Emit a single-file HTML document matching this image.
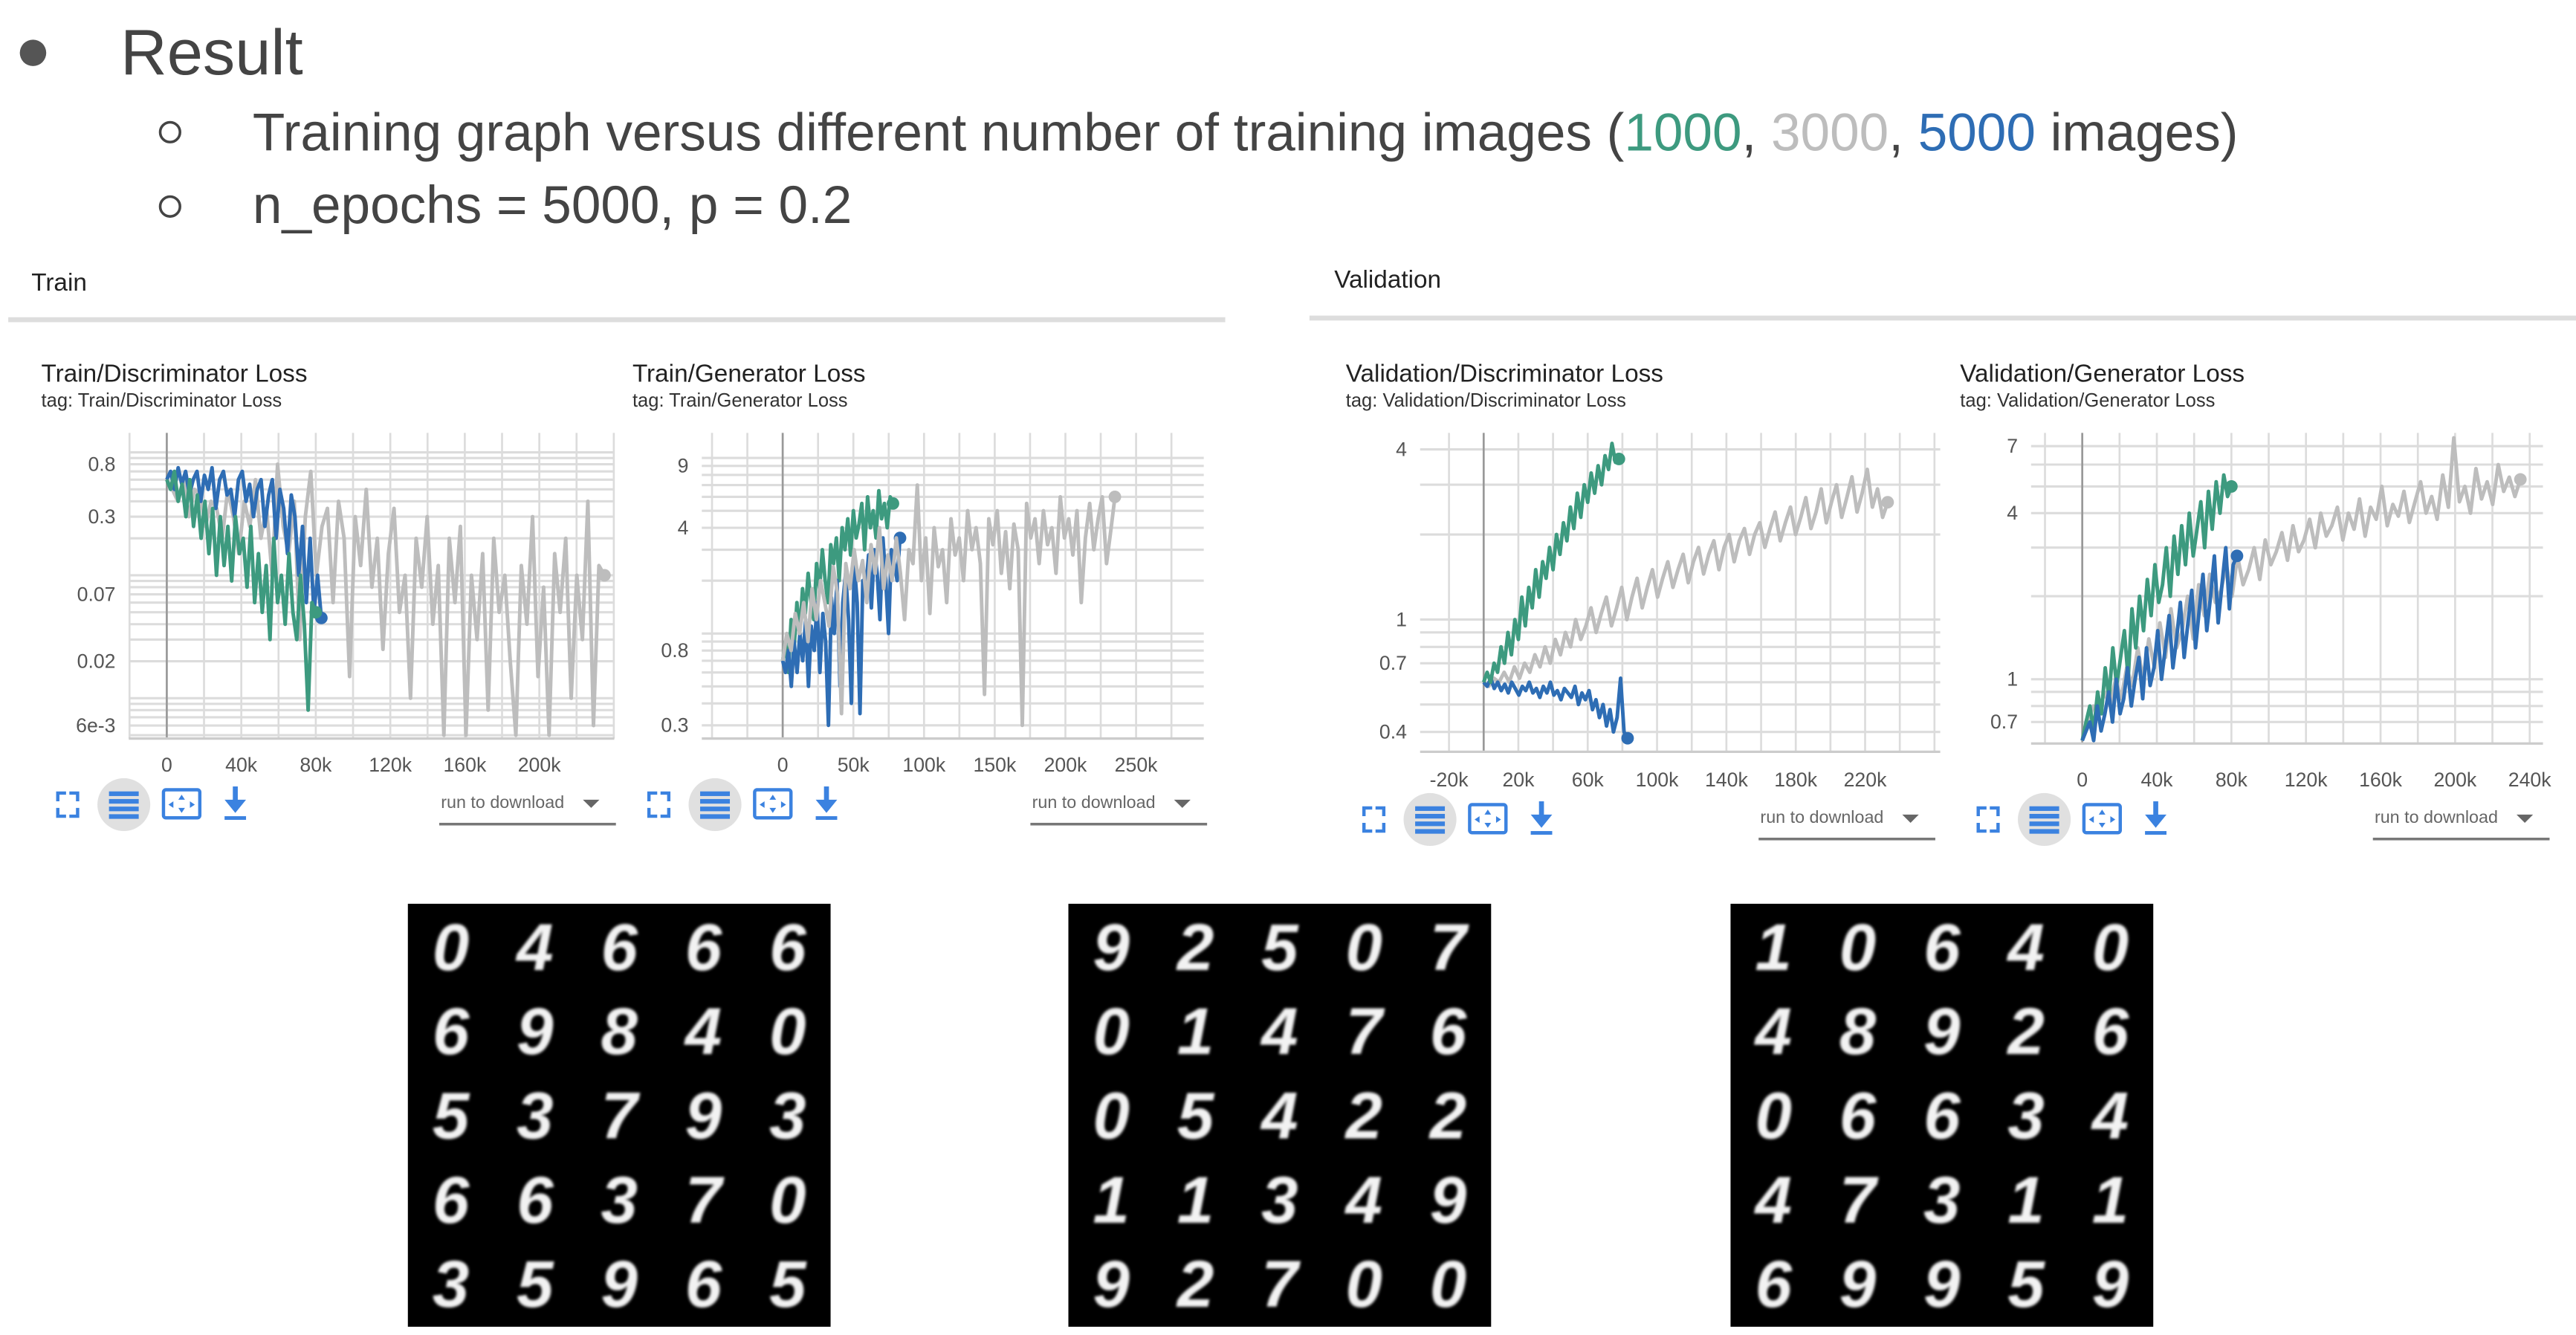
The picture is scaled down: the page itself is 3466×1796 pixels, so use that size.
<!DOCTYPE html>
<html><head><meta charset="utf-8"><style>
html,body{margin:0;padding:0;background:#fff;}
svg{display:block;}
text{font-family:"Liberation Sans",sans-serif;}
</style></head><body>
<svg id="root" width="3466" height="1796" viewBox="0 0 1560 808" preserveAspectRatio="none" xmlns="http://www.w3.org/2000/svg">
<g>
<circle cx="20" cy="32" r="8" fill="#555"/>
<text x="73" y="45" font-size="39" fill="#444">Result</text>
<circle cx="103" cy="80" r="6" fill="none" stroke="#444" stroke-width="1.6"/>
<text x="153" y="91" font-size="32" fill="#444">Training graph versus different number of training images (<tspan fill="#3d9a7f">1000</tspan>, <tspan fill="#bdbdbd">3000</tspan>, <tspan fill="#2e6db4">5000</tspan> images)</text>
<circle cx="103" cy="125" r="6" fill="none" stroke="#444" stroke-width="1.6"/>
<text x="153" y="135" font-size="32" fill="#444">n_epochs = 5000, p = 0.2</text>
</g>
<text x="19" y="176" font-size="15" fill="#222">Train</text>
<rect x="5" y="192" width="737" height="3" fill="#ddd"/>
<text x="808" y="174" font-size="15" fill="#222">Validation</text>
<rect x="793" y="191" width="767" height="3" fill="#ddd"/>
<g id="charts"></g>
<g id="grids"></g>
</svg>
<script>
// ---- data ----
const c1Ticks = [0,40,80,120,160,200];
const c1TickLabels = ["0","40k","80k","120k","160k","200k"];
const c1YTicks = [0.8,0.3,0.07,0.02,0.006];
const c1YLabels = ["0.8","0.3","0.07","0.02","6e-3"];
const c1GreenEnd = 80, c1BlueEnd = 83, c1GrayEnd = 235;
const c1Green = [0.6,0.5,0.7,0.4,0.55,0.3,0.6,0.25,0.45,0.2,0.4,0.15,0.35,0.1,0.3,0.12,0.25,0.09,0.3,0.15,0.2,0.08,0.25,0.06,0.15,0.05,0.12,0.03,0.2,0.06,0.1,0.04,0.15,0.05,0.03,0.1,0.04,0.008,0.06,0.05];
const c1Blue = [0.6,0.7,0.5,0.75,0.55,0.7,0.45,0.6,0.7,0.4,0.65,0.5,0.75,0.35,0.6,0.7,0.45,0.5,0.3,0.6,0.7,0.4,0.55,0.3,0.5,0.6,0.25,0.45,0.6,0.2,0.5,0.35,0.15,0.45,0.3,0.1,0.25,0.06,0.2,0.05,0.1,0.045];
const c1Gray = [0.6,0.5,0.4,0.6,0.3,0.5,0.45,0.25,0.4,0.35,0.2,0.5,0.3,0.15,0.4,0.25,0.6,0.2,0.35,0.1,0.8,0.25,0.15,0.4,0.03,0.3,0.7,0.1,0.25,0.35,0.06,0.4,0.2,0.015,0.3,0.12,0.5,0.08,0.2,0.025,0.15,0.35,0.05,0.1,0.01,0.2,0.08,0.3,0.04,0.12,0.005,0.2,0.06,0.25,0.005,0.1,0.03,0.15,0.008,0.2,0.05,0.1,0.02,0.005,0.12,0.04,0.3,0.015,0.08,0.005,0.15,0.05,0.2,0.01,0.1,0.03,0.4,0.006,0.12,0.1];

const c2Ticks = [0,50,100,150,200,250];
const c2TickLabels = ["0","50k","100k","150k","200k","250k"];
const c2YTicks = [9,4,0.8,0.3];
const c2YLabels = ["9","4","0.8","0.3"];
const c2GreenEnd = 78, c2BlueEnd = 83, c2GrayEnd = 235;
const c2Green = [0.7,0.9,0.6,1.2,0.8,1.5,1.0,1.8,1.3,2.2,1.5,1.2,2.5,1.8,3.0,2.0,1.5,3.2,2.5,3.5,2.0,4.0,3.0,4.5,2.8,5.0,3.5,4.2,5.5,3.0,6.0,4.0,5.0,3.5,6.5,4.5,5.5,4.0,6.0,5.5];
const c2Blue = [0.7,0.6,0.8,0.5,0.9,0.6,1.0,0.7,1.2,0.5,1.1,0.8,1.5,0.6,1.3,0.9,0.3,1.6,1.0,2.0,0.5,1.5,2.2,1.2,0.4,2.5,1.5,0.35,2.0,1.8,2.8,1.4,3.0,2.2,1.2,3.5,2.0,1.0,3.0,2.5,2.0,3.5];
const c2Gray = [0.7,1.0,0.8,1.3,1.0,1.5,0.9,1.8,1.2,2.0,1.5,1.1,2.4,1.7,0.35,2.5,1.8,3.0,2.0,2.6,1.5,3.2,2.2,4.0,1.8,2.8,2.0,3.5,2.2,1.2,3.0,2.5,7.0,2.0,3.5,1.3,4.0,2.4,3.0,1.5,4.5,2.8,3.5,2.0,5.0,3.0,4.0,2.5,0.45,4.5,3.2,5.0,2.2,3.8,1.8,4.2,3.0,0.3,5.5,3.5,4.5,2.5,5.0,3.2,4.0,2.2,6.0,3.5,4.5,2.8,5.0,1.5,3.5,5.5,3.0,4.5,6.0,2.5,3.8,6.0];

const c3Ticks = [-20,20,60,100,140,180,220];
const c3TickLabels = ["-20k","20k","60k","100k","140k","180k","220k"];
const c3YTicks = [4,1,0.7,0.4];
const c3YLabels = ["4","1","0.7","0.4"];
const c3GreenEnd = 78, c3BlueEnd = 83, c3GrayEnd = 233;
const c3Green = [0.6,0.65,0.6,0.7,0.65,0.8,0.7,0.9,0.75,1.0,0.85,1.2,0.95,1.3,1.1,1.5,1.2,1.6,1.4,1.8,1.5,2.0,1.7,2.2,1.9,2.5,2.1,2.8,2.3,3.0,2.6,3.3,2.8,3.5,3.0,3.8,3.4,4.2,3.6,3.7];
const c3Blue = [0.6,0.58,0.62,0.57,0.6,0.56,0.59,0.55,0.6,0.57,0.54,0.58,0.56,0.6,0.55,0.57,0.53,0.58,0.55,0.6,0.54,0.56,0.52,0.57,0.55,0.53,0.58,0.5,0.55,0.52,0.56,0.48,0.52,0.45,0.5,0.42,0.48,0.4,0.45,0.62,0.4,0.38];
const c3Gray = [0.6,0.58,0.62,0.6,0.65,0.6,0.68,0.62,0.7,0.65,0.75,0.68,0.8,0.7,0.85,0.75,0.9,0.8,1.0,0.85,0.95,1.1,0.9,1.05,1.2,0.95,1.1,1.3,1.0,1.2,1.4,1.1,1.3,1.5,1.2,1.4,1.6,1.3,1.5,1.7,1.35,1.6,1.8,1.45,1.7,1.9,1.5,1.8,2.0,1.6,1.9,2.1,1.7,2.0,2.2,1.8,2.1,2.4,1.9,2.2,2.5,2.0,2.3,2.7,2.1,2.4,2.9,2.2,2.6,3.0,2.3,2.7,3.2,2.4,2.8,3.4,2.5,2.9,2.3,2.6];

const c4Ticks = [0,40,80,120,160,200,240];
const c4TickLabels = ["0","40k","80k","120k","160k","200k","240k"];
const c4YTicks = [7,4,1,0.7];
const c4YLabels = ["7","4","1","0.7"];
const c4GreenEnd = 80, c4BlueEnd = 83, c4GrayEnd = 235;
const c4Green = [0.6,0.7,0.8,0.65,0.9,0.75,1.1,0.85,1.3,0.95,1.2,1.5,1.0,1.8,1.3,2.0,1.5,2.3,1.7,2.6,1.9,2.2,3.0,2.0,3.3,2.4,3.6,2.6,4.0,2.8,3.5,4.4,3.0,4.8,3.5,5.2,4.0,5.5,4.6,5.0];
const c4Blue = [0.6,0.65,0.7,0.6,0.8,0.65,0.75,0.9,0.7,1.0,0.75,0.85,1.1,0.8,1.0,1.2,0.85,1.3,0.95,1.1,1.5,1.0,1.3,1.7,1.1,1.4,1.9,1.2,1.6,2.1,1.3,1.8,2.4,1.5,2.0,2.8,1.6,2.2,3.0,1.8,2.6,2.8];
const c4Gray = [0.6,0.7,0.8,0.75,0.9,0.8,1.0,0.85,1.1,0.95,1.3,1.0,1.4,1.1,1.6,1.2,1.8,1.3,1.5,2.0,1.4,2.2,1.7,2.4,1.9,2.1,2.6,2.0,2.8,2.2,2.5,3.0,2.3,3.2,2.6,2.9,3.4,2.7,3.6,2.9,3.2,3.8,3.0,4.0,3.3,3.6,4.2,3.2,4.0,3.5,4.5,3.3,4.2,3.8,5.0,3.6,4.3,3.9,4.8,3.7,4.4,5.2,4.0,4.6,3.8,5.5,4.2,7.5,4.4,5.0,4.0,5.8,4.5,5.2,4.3,6.0,4.8,5.4,4.6,5.3];

const grid1 = ["04666","69840","53793","66370","35965"];
const grid2 = ["92507","01476","05422","11349","92700"];
const grid3 = ["10640","48926","06634","47311","69959"];

// ---- rendering ----
const NS = "http://www.w3.org/2000/svg";
const GREEN = "#3d9a7f", BLUE = "#2e6db4", GRAY = "#bdbdbd";
function mk(tag, attrs, parent){ const e=document.createElementNS(NS,tag); for(const k in attrs) e.setAttribute(k,attrs[k]); parent.appendChild(e); return e; }

function drawChart(id, g, title, tag, ticks, tickLabels, yTicks, yLabels, series){
  const root = document.getElementById('charts');
  const grp = mk('g',{},root);
  
  
  const xs = k => g.x0 + k*g.pxk;
  const ys = v => g.vy - (Math.log10(v) - Math.log10(g.v0))*g.dec;
  const t1 = mk('text',{x:g.tx,y:g.ty,'font-size':15,fill:'#222'},grp); t1.textContent=title;
  
  
  const t2 = mk('text',{x:g.tx,y:g.ty+15,'font-size':11.5,fill:'#333'},grp); t2.textContent=tag;
  
  
  const lo = Math.floor(Math.log10(g.v0))-3;
  for(let p=lo;p<=lo+6;p++){ for(let d=1;d<10;d++){ const v=d*Math.pow(10,p); const y=ys(v);
    if(y>g.T+4 && y<g.B-2){ const l=mk('line',{x1:g.L,x2:g.R,y1:y,y2:y,stroke:'#dcdcdc','stroke-width':1.4},grp);
        } } }
  const half=(ticks[1]-ticks[0])/2;
  for(let k=ticks[0]-4*half;k<=ticks[ticks.length-1]+4*half;k+=half){ const x=xs(k);
    if(x>=g.L-1 && x<=g.R+1){ const l=mk('line',{x1:x,x2:x,y1:g.T,y2:g.B,stroke:'#dcdcdc','stroke-width':1.2},grp);
        } }
  const zl=mk('line',{x1:xs(0),x2:xs(0),y1:g.T,y2:g.B,stroke:'#999','stroke-width':1.2},grp);
   
  const bl=mk('line',{x1:g.L,x2:g.R,y1:g.B,y2:g.B,stroke:'#ccc','stroke-width':1.5},grp);
   
  ticks.forEach((k,i)=>{ const t=mk('text',{x:xs(k),y:g.xly,'font-size':12,fill:'#555','text-anchor':'middle'},grp); t.textContent=tickLabels[i];
      });
  yTicks.forEach((v,i)=>{ const t=mk('text',{x:g.L-8,y:ys(v)+4,'font-size':12,fill:'#555','text-anchor':'end'},grp); t.textContent=yLabels[i];
      });
  const cp=mk('clipPath',{id:id+'-clip'},grp); mk('rect',{x:g.L,y:g.T,width:g.R-g.L,height:g.B-g.T},cp);
  const sg=mk('g',{'clip-path':'url(#'+id+'-clip)'},grp);
  series.forEach(s=>{ const n=s.vals.length; const pts=s.vals.map((v,i)=>[xs(s.end*i/(n-1)),ys(v)]);
    const pl=mk('polyline',{points:pts.map(p=>p[0].toFixed(1)+','+p[1].toFixed(1)).join(' '),fill:'none',stroke:s.c,'stroke-width':2.2,'stroke-linejoin':'round'},sg);
     
    const last=pts[n-1]; const dot=mk('circle',{cx:last[0],cy:last[1],r:3.8,fill:s.c},sg);
      });
  const ix=g.ix, iy=g.iy, blue='#3b82e0';
  const fs=mk('path',{d:`M${ix-6} ${iy-2}v-5h5 M${ix+1} ${iy-7}h5v5 M${ix+6} ${iy+2}v5h-5 M${ix-1} ${iy+7}h-5v-5`,stroke:blue,'stroke-width':2,fill:'none'},grp);
   
  const cg=mk('g',{},grp);  
  mk('circle',{cx:ix+34,cy:iy,r:16,fill:'#e0e0e0'},cg);
  for(let j=0;j<4;j++) mk('rect',{x:ix+25,y:iy-8+j*4.6,width:18,height:2.8,fill:blue},cg);
  const fit=mk('g',{},grp);  
  mk('rect',{x:ix+58,y:iy-9,width:22,height:17,fill:'none',stroke:blue,'stroke-width':2,rx:1.5},fit);
  mk('path',{d:`M${ix+69} ${iy-6}l-2 3h4z M${ix+69} ${iy+5}l-2 -3h4z M${ix+61} ${iy}l3 -2v4z M${ix+77} ${iy}l-3 -2v4z`,fill:blue},fit);
  const dl=mk('g',{},grp);  
  mk('rect',{x:ix+100,y:iy-11,width:3,height:10,fill:blue},dl);
  mk('path',{d:`M${ix+95} ${iy-3}h13l-6.5 8z`,fill:blue},dl);
  mk('rect',{x:ix+95,y:iy+7,width:13,height:2.2,fill:blue},dl);
  const rd=mk('g',{},grp);  
  const rt=mk('text',{x:g.rx,y:iy+2,'font-size':10.5,fill:'#666'},rd); rt.textContent='run to download';
  mk('path',{d:`M${g.rx+86} ${iy-3}h10l-5 5z`,fill:'#666'},rd);
  mk('rect',{x:g.rx-1,y:iy+11,width:107,height:1.6,fill:'#777'},rd);
}

drawChart('train-discriminator-chart',{L:78,R:372,T:262,B:447,x0:101,pxk:1.128,v0:0.8,vy:281,dec:74.4,tx:25,ty:231,xly:467,ix:41,iy:487,rx:267},
  'Train/Discriminator Loss','tag: Train/Discriminator Loss',c1Ticks,c1TickLabels,c1YTicks,c1YLabels,
  [{n:'3000',c:GRAY,vals:c1Gray,end:c1GrayEnd},{n:'5000',c:BLUE,vals:c1Blue,end:c1BlueEnd},{n:'1000',c:GREEN,vals:c1Green,end:c1GreenEnd}]);
drawChart('train-generator-chart',{L:425,R:729,T:262,B:447,x0:474,pxk:0.856,v0:9,vy:282,dec:106.3,tx:383,ty:231,xly:467,ix:399,iy:487,rx:625},
  'Train/Generator Loss','tag: Train/Generator Loss',c2Ticks,c2TickLabels,c2YTicks,c2YLabels,
  [{n:'1000',c:GREEN,vals:c2Green,end:c2GreenEnd},{n:'5000',c:BLUE,vals:c2Blue,end:c2BlueEnd},{n:'3000',c:GRAY,vals:c2Gray,end:c2GrayEnd}]);
drawChart('validation-discriminator-chart',{L:860,R:1175,T:262,B:455,x0:898.5,pxk:1.05,v0:4,vy:272,dec:171,tx:815,ty:231,xly:476,ix:832,iy:496,rx:1066},
  'Validation/Discriminator Loss','tag: Validation/Discriminator Loss',c3Ticks,c3TickLabels,c3YTicks,c3YLabels,
  [{n:'3000',c:GRAY,vals:c3Gray,end:c3GrayEnd},{n:'5000',c:BLUE,vals:c3Blue,end:c3BlueEnd},{n:'1000',c:GREEN,vals:c3Green,end:c3GreenEnd}]);
drawChart('validation-generator-chart',{L:1230,R:1540,T:262,B:450,x0:1261,pxk:1.129,v0:7,vy:270,dec:167,tx:1187,ty:231,xly:476,ix:1204,iy:496,rx:1438},
  'Validation/Generator Loss','tag: Validation/Generator Loss',c4Ticks,c4TickLabels,c4YTicks,c4YLabels,
  [{n:'3000',c:GRAY,vals:c4Gray,end:c4GrayEnd},{n:'1000',c:GREEN,vals:c4Green,end:c4GreenEnd},{n:'5000',c:BLUE,vals:c4Blue,end:c4BlueEnd}]);

const gr=document.getElementById('grids');
const flt=mk('filter',{id:'soft'},gr); mk('feGaussianBlur',{stdDeviation:0.8},flt);
[[grid1,247,'samples-1000'],[grid2,647,'samples-3000'],[grid3,1048,'samples-5000']].forEach(([rows,x0,name])=>{
  const g=mk('g',{},gr);
  
  
  mk('rect',{x:x0,y:547,width:256,height:256,fill:'#000'},g);
  rows.forEach((row,r)=>{ row.split('').forEach((ch,c)=>{
    const t=mk('text',{x:x0+26+c*51,y:547+40+r*51,'font-size':40,'font-weight':'bold',fill:'#f2f2f2','text-anchor':'middle',filter:'url(#soft)','font-style':'italic'},g);
    t.textContent=ch;
    
     }); });
});
</script>
</body></html>
